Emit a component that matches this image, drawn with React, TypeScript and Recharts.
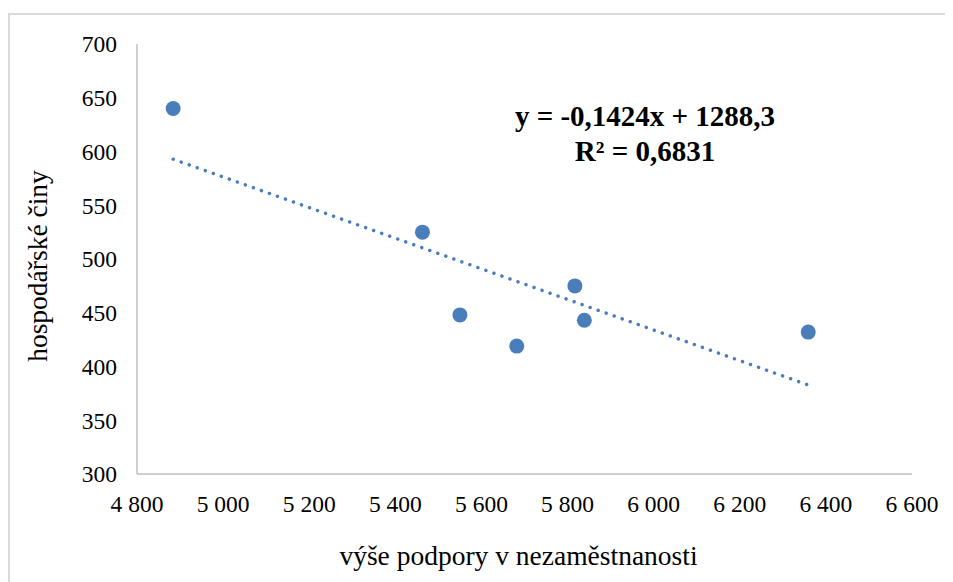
import { ScatterChart, Scatter, XAxis, YAxis, ReferenceLine, Label } from 'recharts'

// výše podpory v nezaměstnanosti (x) vs. hospodářské činy (y)
const podpora = [4884, 5463, 5550, 5682, 5817, 5839, 6359]
const ciny = [640, 525, 448, 419, 475, 443, 432]

const xTicks = [4800, 5000, 5200, 5400, 5600, 5800, 6000, 6200, 6400, 6600]
const yTicks = [300, 350, 400, 450, 500, 550, 600, 650, 700]

// linear trendline as printed on the chart
const slope = -0.1424
const intercept = 1288.3

const points = podpora.map((x, i) => ({ x, y: ciny[i] }))
const xMin = Math.min(...podpora)
const xMax = Math.max(...podpora)
const trend = [
  { x: xMin, y: slope * xMin + intercept },
  { x: xMax, y: slope * xMax + intercept }
]

const serif = '"Liberation Serif", "Times New Roman", serif'
const blue = '#4a7ebb'
const axisGray = '#bfbfbf'

const fmt = (n: number) => String(n).replace(/\B(?=(\d{3})+(?!\d))/g, ' ')

const titleStyle = { fontSize: 27.5, fill: '#000' }

const Dot = (p: any) => <circle cx={p.cx} cy={p.cy} r={7.5} fill={blue} />

export default function App() {
  return (
    <div
      style={{
        position: 'relative',
        width: 945,
        height: 574,
        overflow: 'hidden',
        fontFamily: serif
      }}
    >
      <style>{`.chart svg text { font-family: ${serif} !important; }`}</style>
      <div
        style={{
          position: 'absolute',
          left: 0,
          top: 5,
          width: 960,
          height: 600,
          border: '2px solid #d9d9d9',
          boxSizing: 'border-box'
        }}
      />
      <div className='chart' style={{ position: 'absolute', left: 0, top: 0 }}>
        <ScatterChart
          width={945}
          height={574}
          margin={{ top: 36, right: 41, bottom: 0, left: 0 }}
        >
          <XAxis
            type='number'
            dataKey='x'
            domain={[4800, 6600]}
            ticks={xTicks}
            interval={0}
            tickFormatter={fmt}
            height={108}
            tickLine={false}
            tickSize={0}
            tickMargin={21}
            axisLine={{ stroke: axisGray, strokeWidth: 1.5 }}
            tick={{ fontSize: 23.5, fill: '#000' }}
          >
            <Label
              content={(props: any) => {
                const vb = props.viewBox || { x: 129, y: 466, width: 775, height: 108 }
                const cx = vb.x + vb.width / 2 - 6
                const cy = vb.y + 91
                return (
                  <text x={cx} y={cy} textAnchor='middle' style={titleStyle}>
                    výše podpory v nezaměstnanosti
                  </text>
                )
              }}
            />
          </XAxis>
          <YAxis
            type='number'
            dataKey='y'
            domain={[300, 700]}
            ticks={yTicks}
            interval={0}
            width={129}
            tickLine={false}
            tickSize={0}
            tickMargin={20}
            axisLine={{ stroke: axisGray, strokeWidth: 1.5 }}
            tick={{ fontSize: 23.5, fill: '#000' }}
          >
            <Label
              content={(props: any) => {
                const vb = props.viewBox || { x: 0, y: 36, width: 129, height: 430 }
                const cx = vb.x + 39
                const cy = vb.y + vb.height / 2 + 7
                return (
                  <text
                    x={cx}
                    y={cy}
                    transform={`rotate(-90 ${cx} ${cy})`}
                    textAnchor='middle'
                    style={titleStyle}
                  >
                    hospodářské činy
                  </text>
                )
              }}
            />
          </YAxis>
          <ReferenceLine
            segment={trend}
            stroke={blue}
            strokeWidth={3.5}
            strokeDasharray='0.01 8.5'
            strokeLinecap='round'
          />
          <Scatter data={points} fill={blue} shape={Dot} isAnimationActive={false} />
        </ScatterChart>
      </div>
      <div
        style={{
          position: 'absolute',
          left: 487,
          top: 90.5,
          width: 300,
          textAlign: 'center',
          fontWeight: 'bold',
          fontSize: 29,
          lineHeight: '35.5px',
          color: '#000'
        }}
      >
        y = -0,1424x + 1288,3
        <br />
        R² = 0,6831
      </div>
    </div>
  )
}
